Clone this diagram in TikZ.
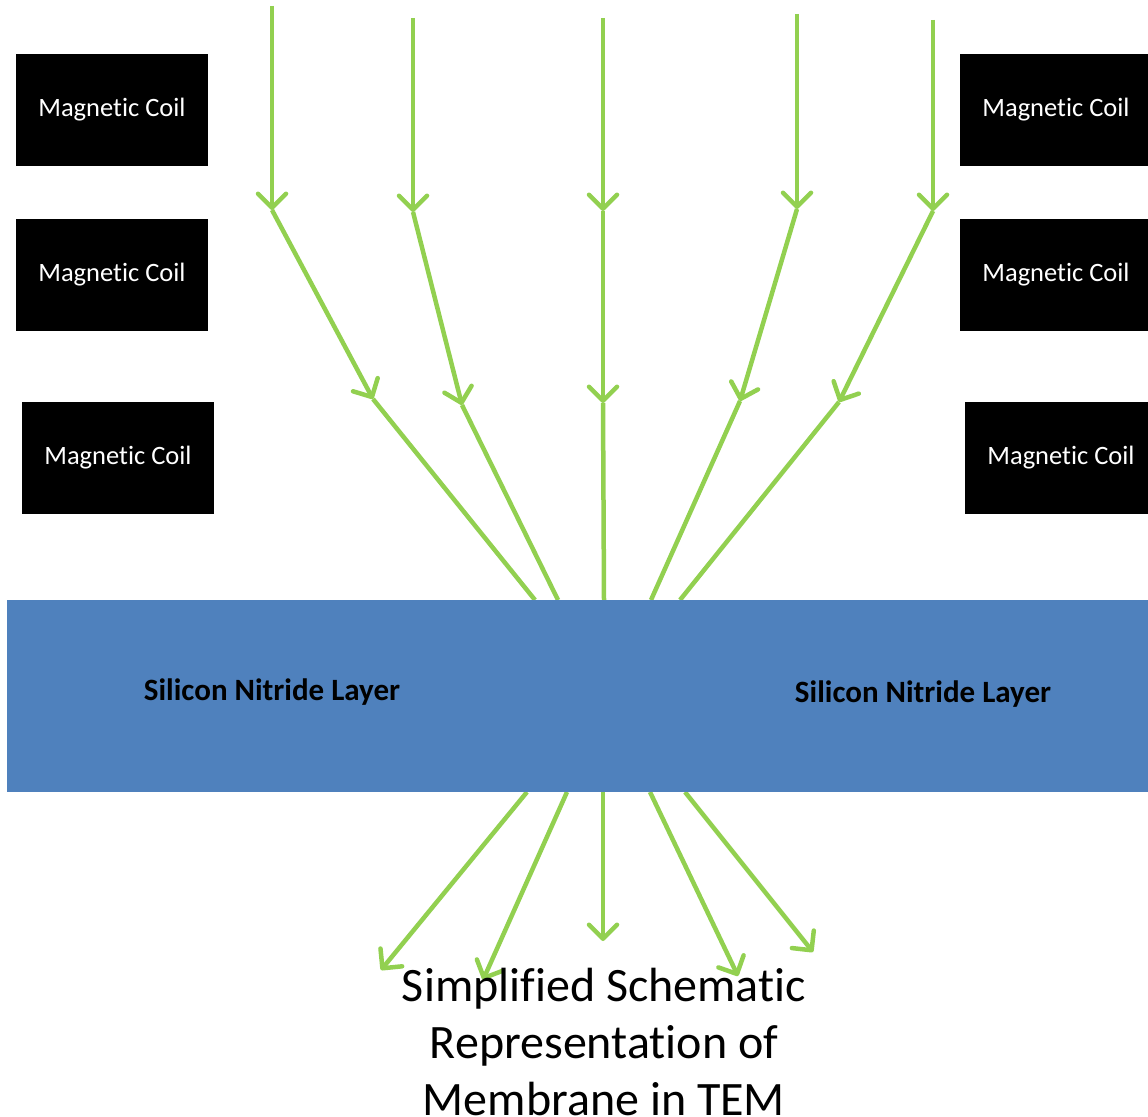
\documentclass[tikz,border=0pt]{standalone}
\usepackage{fontspec}
\setmainfont{Carlito}[Ligatures=NoCommon]
\usetikzlibrary{arrows.meta, positioning}
\definecolor{beamgreen}{HTML}{92D050}
\definecolor{layerblue}{HTML}{4F81BD}

\begin{document}
\begin{tikzpicture}[x=1pt, y=-1pt,
  coil/.style={fill=black, text=white, inner sep=0pt,
    minimum width=192pt, minimum height=112pt,
    font=\fontsize{26.5}{30}\selectfont},
  layer/.style={fill=layerblue, inner sep=0pt,
    minimum width=1160pt, minimum height=192pt},
  lbl/.style={font=\fontsize{31}{36}\selectfont\bfseries},
  beam/.style={draw=beamgreen, line width=4.5pt},
  arr/.style={beam, -{Straight Barb[length=14pt, width=28pt, line cap=round, line join=round]}}
]
\useasboundingbox (0,0) rectangle (1148,1116);

% magnetic coils
\node[coil] (coilL1) at (112,110) {Magnetic Coil};
\node[coil] (coilL2) at (112,275) {Magnetic Coil};
\node[coil] (coilL3) at (118,458) {Magnetic Coil};
\node[coil] (coilR1) at (1056,110) {Magnetic Coil};
\node[coil] (coilR2) at (1056,275) {Magnetic Coil};
\node[coil] (coilR3) at (1061,458) {Magnetic Coil};

% electron beams
\coordinate (b1a) at (272,6);   \coordinate (b1b) at (272,210);
\coordinate (b1c) at (373,399); \coordinate (b1d) at (535,600);
\coordinate (b1e) at (527,792); \coordinate (b1f) at (381,970);

\coordinate (b2a) at (413,18);  \coordinate (b2b) at (413,212);
\coordinate (b2c) at (462,405); \coordinate (b2d) at (558,600);
\coordinate (b2e) at (567,792); \coordinate (b2f) at (483,980);

\coordinate (b3a) at (603,18);  \coordinate (b3b) at (603,211);
\coordinate (b3c) at (603,403); \coordinate (b3d) at (604,600);
\coordinate (b3e) at (603,792); \coordinate (b3f) at (603,941);

\coordinate (b4a) at (797,14);  \coordinate (b4b) at (797,209);
\coordinate (b4c) at (740,401); \coordinate (b4d) at (651,600);
\coordinate (b4e) at (650,792); \coordinate (b4f) at (738,976);

\coordinate (b5a) at (933,20);  \coordinate (b5b) at (933,211);
\coordinate (b5c) at (839,402); \coordinate (b5d) at (680,600);
\coordinate (b5e) at (685,792); \coordinate (b5f) at (813,952);

\draw[arr] (b1a) -- (b1b);
\draw[arr] (b1b) -- (b1c);
\draw[beam] (b1c) -- (b1d);
\draw[arr] (b1e) -- (b1f);

\draw[arr] (b2a) -- (b2b);
\draw[arr] (b2b) -- (b2c);
\draw[beam] (b2c) -- (b2d);
\draw[arr] (b2e) -- (b2f);

\draw[arr] (b3a) -- (b3b);
\draw[arr] (b3b) -- (b3c);
\draw[beam] (b3c) -- (b3d);
\draw[arr] (b3e) -- (b3f);

\draw[arr] (b4a) -- (b4b);
\draw[arr] (b4b) -- (b4c);
\draw[beam] (b4c) -- (b4d);
\draw[arr] (b4e) -- (b4f);

\draw[arr] (b5a) -- (b5b);
\draw[arr] (b5b) -- (b5c);
\draw[beam] (b5c) -- (b5d);
\draw[arr] (b5e) -- (b5f);

% membrane
\node[layer] (layer) at (587,696) {};
\node[lbl] (snL) at (272,692) {Silicon Nitride Layer};
\node[lbl] (snR) at (923,694) {Silicon Nitride Layer};

\node[align=center, font=\fontsize{48}{57}\selectfont] (caption) at (604,1042)
    {Simplified Schematic\\ Representation of\\ Membrane in TEM};
\end{tikzpicture}
\end{document}
